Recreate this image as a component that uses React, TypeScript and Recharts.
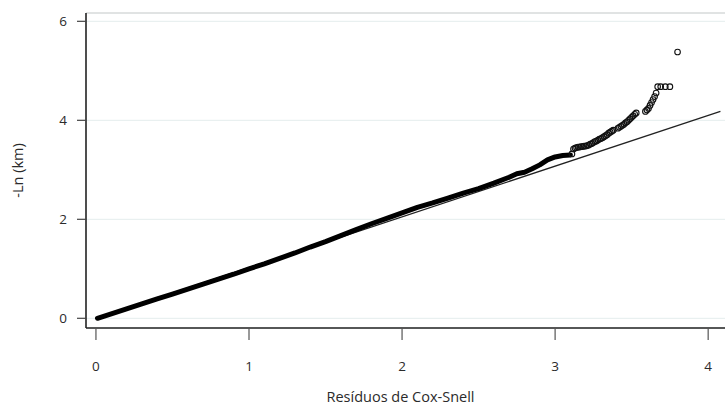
import {
  ScatterChart,
  Scatter,
  XAxis,
  YAxis,
  CartesianGrid,
  ReferenceLine
} from 'recharts'

// Cox-Snell residuals vs. -ln of the Kaplan-Meier estimate
const denseResidual = [
  0.01, 0.05, 0.1, 0.2, 0.3, 0.4, 0.5, 0.6, 0.7, 0.8, 0.9, 1.0, 1.1, 1.2, 1.3,
  1.4, 1.5, 1.6, 1.7, 1.8, 1.9, 2.0, 2.1, 2.2, 2.3, 2.4, 2.5, 2.6, 2.7, 2.75,
  2.8, 2.85, 2.9, 2.95, 3.0, 3.05, 3.1
]
const denseLnKm = [
  0.0, 0.04, 0.09, 0.19, 0.29, 0.39, 0.49, 0.59, 0.69, 0.79, 0.89, 1.0, 1.1,
  1.21, 1.32, 1.44, 1.55, 1.67, 1.79, 1.91, 2.02, 2.13, 2.24, 2.33, 2.43, 2.53,
  2.62, 2.73, 2.85, 2.92, 2.95, 3.02, 3.1, 3.2, 3.26, 3.29, 3.3
]

// upper tail, where the individual circles separate
const tailResidual = [
  3.11, 3.12, 3.13, 3.14, 3.15, 3.16, 3.17, 3.18, 3.19, 3.2, 3.21, 3.22, 3.23,
  3.24, 3.25, 3.26, 3.27, 3.28, 3.29, 3.3, 3.31, 3.32, 3.33, 3.34, 3.35, 3.36,
  3.37, 3.38, 3.41, 3.42, 3.43, 3.44, 3.45, 3.46, 3.47, 3.48, 3.49, 3.5, 3.51,
  3.52, 3.53, 3.59, 3.6, 3.61, 3.62, 3.63, 3.64, 3.65, 3.66, 3.67, 3.69, 3.72,
  3.75, 3.8
]
const tailLnKm = [
  3.32, 3.42, 3.44, 3.45, 3.46, 3.46, 3.47, 3.47, 3.48, 3.48, 3.49, 3.5, 3.52,
  3.53, 3.55, 3.57, 3.58, 3.6, 3.62, 3.63, 3.65, 3.67, 3.69, 3.71, 3.74, 3.76,
  3.78, 3.8, 3.84, 3.86, 3.88, 3.9, 3.92, 3.95, 3.97, 4.0, 4.03, 4.06, 4.09,
  4.12, 4.15, 4.18, 4.21, 4.24, 4.3, 4.36, 4.42, 4.48, 4.55, 4.68, 4.68, 4.68,
  4.68, 5.38
]

const xTicks = [0, 1, 2, 3, 4]
const yTicks = [0, 2, 4, 6]
const refLine = [
  { x: 0, y: 0 },
  { x: 4.08, y: 4.18 }
]

const denseData = denseResidual.map((x, i) => ({ x, y: denseLnKm[i] }))
const tailData = tailResidual.map((x, i) => ({ x, y: tailLnKm[i] }))

const FONT = '"Open Sans", sans-serif'
const tickStyle = { fontSize: 13.5, fill: '#2b2b2b', fontFamily: FONT }

const noDot = () => <g />

const openCircle = (props: any) => (
  <circle cx={props.cx} cy={props.cy} r={2.8} fill="none" stroke="#111" strokeWidth={1.1} />
)

export default function App() {
  return (
    <div style={{ position: 'absolute', left: 0, top: 0, background: '#fff' }}>
      <ScatterChart
        width={725}
        height={406}
        margin={{ top: 13, right: 0, bottom: 0, left: 0 }}
        style={{ fontFamily: FONT }}
      >
        <CartesianGrid vertical={false} stroke="#e4eded" strokeWidth={1} />
        <ReferenceLine y={6.168} stroke="#cfcfcf" strokeWidth={1.2} />
        <XAxis
          type="number"
          dataKey="x"
          domain={[-0.065, 4.11]}
          ticks={xTicks}
          allowDataOverflow
          height={78}
          tick={tickStyle}
          tickSize={12}
          tickMargin={21}
          tickLine={{ stroke: '#555', strokeWidth: 1.2 }}
          axisLine={{ stroke: '#222', strokeWidth: 1.6 }}
          label={{
            value: 'Resíduos de Cox-Snell',
            position: 'insideBottom',
            offset: 4.5,
            dx: -5,
            style: { fontSize: 14.5, fill: '#2b2b2b', fontFamily: FONT }
          }}
        />
        <YAxis
          type="number"
          dataKey="y"
          domain={[-0.196, 6.168]}
          ticks={yTicks}
          allowDataOverflow
          width={86}
          tick={tickStyle}
          tickSize={9}
          tickMargin={10}
          tickLine={{ stroke: '#444', strokeWidth: 1.2 }}
          axisLine={{ stroke: '#222', strokeWidth: 1.6 }}
          label={{
            value: '-Ln (km)',
            angle: -90,
            position: 'insideLeft',
            offset: 18,
            style: { fontSize: 14.5, fill: '#2b2b2b', fontFamily: FONT, textAnchor: 'middle' }
          }}
        />
        <ReferenceLine segment={refLine} stroke="#222" strokeWidth={1.3} />
        <Scatter
          data={denseData}
          line={{ stroke: '#000', strokeWidth: 5, strokeLinecap: 'round', strokeLinejoin: 'round' }}
          shape={noDot}
          isAnimationActive={false}
        />
        <Scatter data={tailData} shape={openCircle} isAnimationActive={false} />
      </ScatterChart>
    </div>
  )
}
